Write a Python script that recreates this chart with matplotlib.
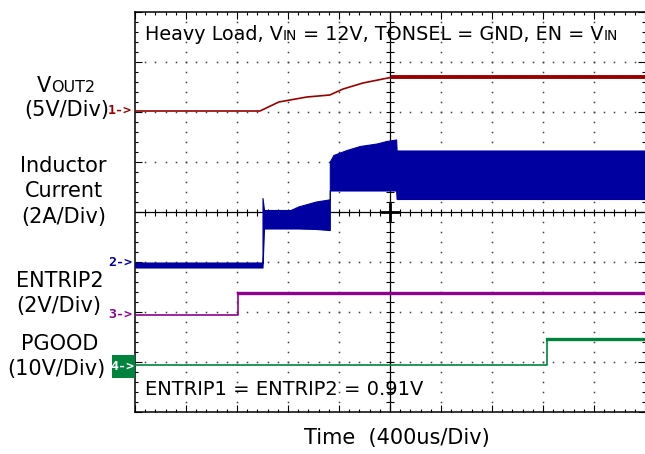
import numpy as np
import matplotlib.pyplot as plt
from matplotlib.collections import LineCollection
from matplotlib.patches import Rectangle

W, H = 645, 454

# time axis in divisions (400us/Div), levels in divisions counted from the bottom
vout_t = [0.0, 2.45, 2.82, 3.37, 3.82, 4.08, 4.47, 4.86, 5.06, 10.0]
vout_v = [6.02, 6.02, 6.20, 6.30, 6.34, 6.46, 6.58, 6.66, 6.70, 6.70]

# inductor current: switching envelope (top / bottom)
cur_t = [0.00, 2.50, 2.50, 2.53, 3.05, 3.20, 3.55, 3.80, 3.82, 3.82, 3.89, 4.15, 4.41, 4.74, 4.93, 5.12, 5.13, 10.0]
cur_hi = [2.99, 2.99, 4.28, 4.04, 4.04, 4.11, 4.21, 4.25, 4.25, 5.01, 5.14, 5.24, 5.32, 5.37, 5.42, 5.45, 5.23, 5.23]
cur_lo = [2.89, 2.89, 2.89, 3.67, 3.67, 3.67, 3.66, 3.64, 3.64, 4.43, 4.43, 4.43, 4.43, 4.43, 4.43, 4.43, 4.26, 4.26]

entrip_t = [0.0, 2.01, 2.01, 10.0]
entrip_v = [1.94, 1.94, 2.39, 2.39]

pgood_t = [0.0, 8.07, 8.07, 10.0]
pgood_v = [0.94, 0.94, 1.46, 1.46]

RED = '#9a0000'
BLUE = '#0000a0'
PURPLE = '#8e008e'
GREEN = '#00843d'


def fx(px):
    return px / W


def fy(py):
    return 1 - py / H


fig = plt.figure(figsize=(W / 100, H / 100), dpi=100)
ax = fig.add_axes([fx(135), fy(412), 510 / W, 400 / H])
ax.set_xlim(0, 10)
ax.set_ylim(0, 8)

# scope graticule
for sp in ['left', 'top', 'bottom']:
    ax.spines[sp].set_linewidth(1.1)
ax.spines['right'].set_visible(False)
ax.set_xticks(np.arange(0, 11, 1))
ax.set_yticks(np.arange(0, 9, 1))
ax.set_xticks(np.arange(0, 10.01, 0.2), minor=True)
ax.set_yticks(np.arange(0, 8.01, 0.2), minor=True)
ax.tick_params(which='both', direction='in', top=True, right=True,
               labelbottom=False, labelleft=False, width=0.8)
ax.tick_params(which='major', length=5)
ax.tick_params(which='minor', length=2.3)

gx = [1, 2, 3, 4, 6, 7, 8, 9]
gy = [1, 2, 3, 5, 6, 7]
dots_y = np.arange(0.2, 8, 0.2)
dots_x = np.arange(0.2, 10, 0.2)
for x in gx:
    ax.plot(np.full_like(dots_y, x), dots_y, ls='none', marker='s', ms=1.1, color='#404040', mew=0)
for y in gy:
    ax.plot(dots_x, np.full_like(dots_x, y), ls='none', marker='s', ms=1.1, color='#404040', mew=0)

ax.axhline(4, color='black', lw=0.9)
ax.axvline(5, color='black', lw=0.9)
segs = [[(x, 3.93), (x, 4.07)] for x in dots_x]
segs += [[(4.93, y), (5.07, y)] for y in dots_y]
ax.add_collection(LineCollection(segs, colors='black', linewidths=0.8))
ax.plot([4.85, 5.15], [4, 4], color='black', lw=2)
ax.plot([5, 5], [3.85, 4.15], color='black', lw=2)

# traces
ax.fill_between(cur_t, cur_lo, cur_hi, color=BLUE, lw=0.8, zorder=3)
ax.plot(vout_t[:9], vout_v[:9], color=RED, lw=1.2, zorder=4)
ax.plot(vout_t[8:], vout_v[8:], color=RED, lw=2.8, zorder=4)
ax.plot(entrip_t[:3], entrip_v[:3], color=PURPLE, lw=1.2, zorder=4)
ax.plot(entrip_t[2:], entrip_v[2:], color=PURPLE, lw=2.4, zorder=4)
ax.plot(pgood_t[:3], pgood_v[:3], color=GREEN, lw=1.2, zorder=4)
ax.plot(pgood_t[2:], pgood_v[2:], color=GREEN, lw=2.4, zorder=4)


def chain(x, y, parts):
    # pieces of different size on one baseline, x/y in pixels
    s, fs = parts[0]
    t = fig.text(fx(x), fy(y), s, fontsize=fs, va='baseline', ha='left')
    prev = fs
    for s, fs in parts[1:]:
        dy = 0.23 * (prev - fs)
        t = ax.annotate(s, xy=(1, 0), xycoords=t, xytext=(0, dy),
                        textcoords='offset points', fontsize=fs, va='bottom', ha='left',
                        annotation_clip=False)
        prev = fs
    return t


chain(145, 40, [('Heavy Load, V', 13.8), ('IN', 10), (' = 12V, TONSEL = GND, EN = V', 13.8), ('IN', 10)])
chain(37, 92, [('V', 15), ('OUT2', 11.5)])

left_labels = [('(5V/Div)', 67, 116), ('Inductor', 63.5, 172), ('Current', 63.5, 197),
               ('(2A/Div)', 63.5, 223), ('ENTRIP2', 59.5, 287), ('(2V/Div)', 59, 312),
               ('PGOOD', 60, 350), ('(10V/Div)', 56, 375)]
for s, x, y in left_labels:
    fig.text(fx(x), fy(y), s, fontsize=15, ha='center', va='baseline')

fig.text(fx(145), fy(395), 'ENTRIP1 = ENTRIP2 = 0.91V', fontsize=14, ha='left', va='baseline')
fig.text(fx(397), fy(444), 'Time  (400us/Div)', fontsize=15, ha='center', va='baseline')

# channel markers
marks = [('1->', RED, 111), ('2->', BLUE, 263), ('3->', PURPLE, 315)]
for s, c, y in marks:
    fig.text(fx(132), fy(y), s, fontsize=9.5, color=c, ha='right', va='center',
             family='DejaVu Sans Mono', fontweight='bold')
fig.patches.append(Rectangle((fx(112), fy(378)), 23 / W, 23 / H, transform=fig.transFigure,
                             facecolor=GREEN, edgecolor='none', zorder=1))
fig.text(fx(134), fy(366), '4->', fontsize=9.5, color='white', ha='right', va='center',
         family='DejaVu Sans Mono', fontweight='bold', zorder=2)

fig.savefig('out.png', dpi=100)
